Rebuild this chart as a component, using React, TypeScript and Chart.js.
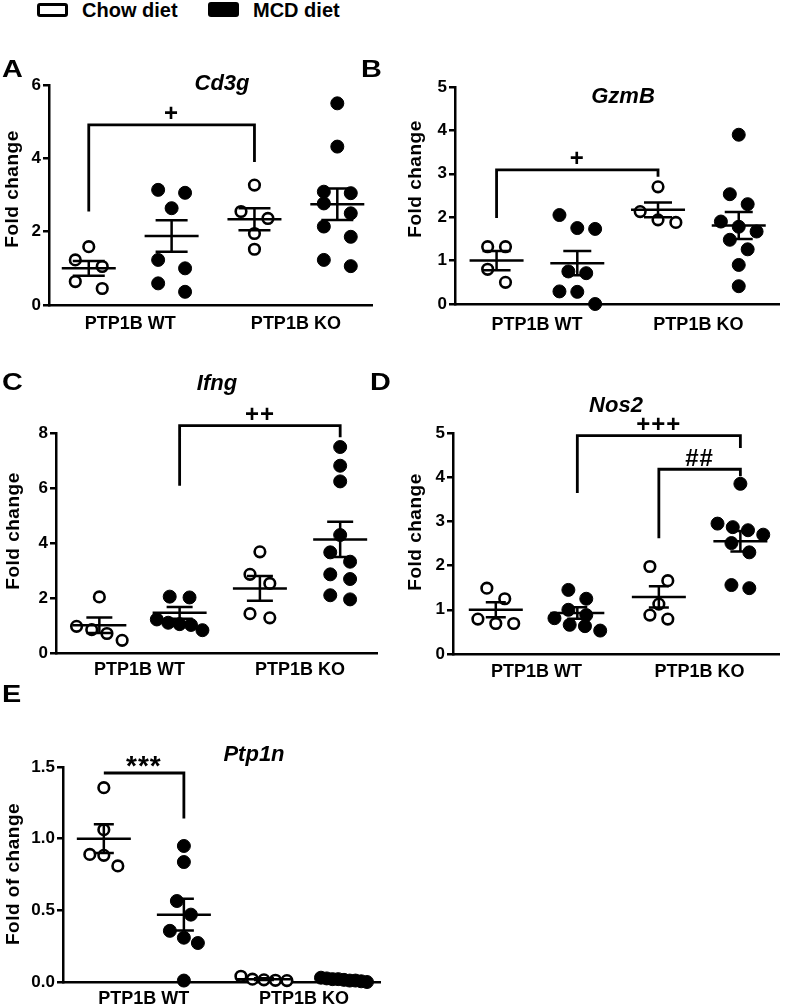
import React, { useEffect, useRef } from "react";
import { Chart, registerables } from "chart.js";

Chart.register(...registerables);

const FONT = "'Liberation Sans', Arial, Helvetica, sans-serif";

// ---------- shared categories ----------
const groupPositions = [1, 2, 3, 4];
const groupDiets = ["Chow", "MCD", "Chow", "MCD"];
const genotypePositions = [1.5, 3.5];
const genotypeLabels = ["PTP1B WT", "PTP1B KO"];
const legendLabels = ["Chow diet", "MCD diet"];

// ---------- A: Cd3g ----------
const cd3gChowWT = [1.59, 1.23, 1.05, 0.64, 0.45];
const cd3gMcdWT = [3.14, 3.06, 2.64, 1.23, 1.0, 0.59, 0.36];
const cd3gChowKO = [3.27, 2.55, 2.36, 1.95, 1.52];
const cd3gMcdKO = [5.5, 4.32, 3.09, 3.05, 2.77, 2.5, 2.14, 1.86, 1.23, 1.06];
const cd3gMean = [1.0, 1.88, 2.34, 2.75];
const cd3gSem = [0.2, 0.43, 0.3, 0.43];
const cd3gTicks = [0, 2, 4, 6];
const cd3gSig = [{ from: 1, to: 3, top: 4.91, leftEnd: 2.55, rightEnd: 3.9, label: "+" }];

// ---------- B: GzmB ----------
const gzmbChowWT = [1.32, 1.32, 0.8, 0.5];
const gzmbMcdWT = [2.05, 1.75, 1.73, 0.75, 0.71, 0.29, 0.28, 0.0];
const gzmbChowKO = [2.7, 2.13, 1.94, 1.88];
const gzmbMcdKO = [3.9, 2.53, 2.3, 1.9, 1.78, 1.67, 1.48, 1.26, 0.9, 0.41];
const gzmbMean = [1.0, 0.94, 2.17, 1.81];
const gzmbSem = [0.22, 0.28, 0.17, 0.31];
const gzmbTicks = [0, 1, 2, 3, 4, 5];
const gzmbSig = [{ from: 1, to: 3, top: 3.09, leftEnd: 1.98, rightEnd: 2.93, label: "+" }];

// ---------- C: Ifng ----------
const ifngChowWT = [2.04, 0.97, 0.85, 0.71, 0.46];
const ifngMcdWT = [2.05, 2.02, 1.22, 1.1, 1.05, 1.02, 0.83];
const ifngChowKO = [3.68, 2.86, 2.53, 1.43, 1.28];
const ifngMcdKO = [7.49, 6.81, 6.24, 4.29, 3.66, 3.32, 2.86, 2.69, 2.1, 1.95];
const ifngMean = [1.01, 1.46, 2.35, 4.13];
const ifngSem = [0.28, 0.21, 0.45, 0.64];
const ifngTicks = [0, 2, 4, 6, 8];
const ifngSig = [{ from: 2, to: 4, top: 8.27, leftEnd: 6.08, rightEnd: 7.85, label: "++" }];

// ---------- D: Nos2 ----------
const nos2ChowWT = [1.49, 1.25, 0.79, 0.69, 0.69];
const nos2McdWT = [1.45, 1.25, 1.0, 0.88, 0.81, 0.66, 0.63, 0.53];
const nos2ChowKO = [1.98, 1.66, 1.13, 0.88, 0.79];
const nos2McdKO = [3.85, 2.95, 2.87, 2.8, 2.7, 2.51, 2.3, 1.56, 1.49];
const nos2Mean = [1.0, 0.93, 1.29, 2.55];
const nos2Sem = [0.17, 0.13, 0.24, 0.23];
const nos2Ticks = [0, 1, 2, 3, 4, 5];
const nos2Sig = [
  { from: 2, to: 4, top: 4.94, leftEnd: 3.64, rightEnd: 4.66, label: "+++" },
  { from: 3, to: 4, top: 4.18, leftEnd: 2.62, rightEnd: 4.02, label: "##" },
];

// ---------- E: Ptp1n ----------
const ptp1nChowWT = [1.356, 1.063, 0.89, 0.884, 0.81];
const ptp1nMcdWT = [0.949, 0.837, 0.565, 0.47, 0.357, 0.309, 0.272, 0.01];
const ptp1nChowKO = [0.04, 0.02, 0.015, 0.012, 0.01];
const ptp1nMcdKO = [0.02, 0.015, 0.03, 0.01, 0.02, 0.0, 0.01, 0.025, 0.005];
const ptp1nMean = [1.0, 0.47, 0.02, 0.015];
const ptp1nSem = [0.1, 0.11, 0.006, 0.003];
const ptp1nTicks = [0, 0.5, 1.0, 1.5];
const ptp1nSig = [{ from: 1, to: 2, top: 1.458, leftEnd: 1.458, rightEnd: 1.14, label: "***" }];

type Sig = { from: number; to: number; top: number; leftEnd: number; rightEnd: number; label: string };
type Panel = {
  letter: string;
  title: string;
  yTitle: string;
  groups: number[][];
  mean: number[];
  sem: number[];
  ticks: number[];
  decimals: number;
  sig: Sig[];
  box: { left: number; top: number; width: number; height: number };
  area: { left: number; right: number; top: number; bottom: number };
  xRange: [number, number];
  titlePos: [number, number];
  yTitlePos: [number, number];
  letterPos: [number, number];
  spread: number;
  tickPad: number;
  capHalf: number;
};

const panels: Panel[] = [
  {
    letter: "A", title: "Cd3g", yTitle: "Fold change",
    groups: [cd3gChowWT, cd3gMcdWT, cd3gChowKO, cd3gMcdKO], mean: cd3gMean, sem: cd3gSem,
    ticks: cd3gTicks, decimals: 0, sig: cd3gSig,
    box: { left: 0, top: 40, width: 380, height: 300 },
    area: { left: 49, right: 373, top: 85, bottom: 305 },
    xRange: [0.52, 4.42], titlePos: [222, 90], yTitlePos: [13, 189], letterPos: [2, 57],
    spread: 27, tickPad: 8, capHalf: 16,
  },
  {
    letter: "B", title: "GzmB", yTitle: "Fold change",
    groups: [gzmbChowWT, gzmbMcdWT, gzmbChowKO, gzmbMcdKO], mean: gzmbMean, sem: gzmbSem,
    ticks: gzmbTicks, decimals: 0, sig: gzmbSig,
    box: { left: 380, top: 40, width: 407, height: 300 },
    area: { left: 455, right: 782, top: 87, bottom: 304 },
    xRange: [0.485, 4.5], titlePos: [623, 103], yTitlePos: [416, 179], letterPos: [361, 57],
    spread: 18, tickPad: 10, capHalf: 14,
  },
  {
    letter: "C", title: "Ifng", yTitle: "Fold change",
    groups: [ifngChowWT, ifngMcdWT, ifngChowKO, ifngMcdKO], mean: ifngMean, sem: ifngSem,
    ticks: ifngTicks, decimals: 0, sig: ifngSig,
    box: { left: 0, top: 360, width: 385, height: 320 },
    area: { left: 56, right: 380, top: 433, bottom: 653 },
    xRange: [0.46, 4.46], titlePos: [217, 390], yTitlePos: [14, 531], letterPos: [2, 370],
    spread: 20, tickPad: 6, capHalf: 13,
  },
  {
    letter: "D", title: "Nos2", yTitle: "Fold change",
    groups: [nos2ChowWT, nos2McdWT, nos2ChowKO, nos2McdKO], mean: nos2Mean, sem: nos2Sem,
    ticks: nos2Ticks, decimals: 0, sig: nos2Sig,
    box: { left: 380, top: 360, width: 407, height: 320 },
    area: { left: 453, right: 781, top: 433, bottom: 654 },
    xRange: [0.475, 4.475], titlePos: [616, 412], yTitlePos: [416, 532], letterPos: [370, 370],
    spread: 18, tickPad: 7, capHalf: 10,
  },
  {
    letter: "E", title: "Ptp1n", yTitle: "Fold of change",
    groups: [ptp1nChowWT, ptp1nMcdWT, ptp1nChowKO, ptp1nMcdKO], mean: ptp1nMean, sem: ptp1nSem,
    ticks: ptp1nTicks, decimals: 1, sig: ptp1nSig,
    box: { left: 0, top: 680, width: 390, height: 326 },
    area: { left: 63, right: 380, top: 767, bottom: 982 },
    xRange: [0.49, 4.45], titlePos: [254, 761], yTitlePos: [14, 874], letterPos: [2, 682],
    spread: 14, tickPad: 6, capHalf: 10,
  },
];

// Row-based swarm layout (like a column scatter plot): points closer than one symbol
// vertically share a row and are spread side by side around the group centre.
function swarm(values: number[], center: number, pxPerX: number, pxPerY: number, spread: number) {
  const ROW_GAP = 14.5;
  const MAX_WIDTH = 46;
  const sorted = values.map((v) => v).sort((a, b) => a - b);
  const rows: number[][] = [];
  let cur: number[] = [];
  let start: number | null = null;
  for (const v of sorted) {
    if (start === null || (v - start) * pxPerY > ROW_GAP) {
      if (cur.length) rows.push(cur);
      cur = [v];
      start = v;
    } else cur.push(v);
  }
  if (cur.length) rows.push(cur);
  const pts: { x: number; y: number }[] = [];
  for (const row of rows) {
    const n = row.length;
    let s = spread;
    if (n > 1 && (n - 1) * s > MAX_WIDTH) s = MAX_WIDTH / (n - 1);
    const desc = row.slice().sort((a, b) => b - a);
    desc.forEach((v, k) => {
      const off = (k - (n - 1) / 2) * s;
      pts.push({ x: center + off / pxPerX, y: v });
    });
  }
  return pts;
}

function PanelChart({ p }: { p: Panel }) {
  const ref = useRef<HTMLCanvasElement>(null);
  useEffect(() => {
    const canvas = ref.current;
    if (!canvas) return;
    const { box, area } = p;
    const yMax = p.ticks[p.ticks.length - 1];
    const pxPerX = (area.right - area.left) / (p.xRange[1] - p.xRange[0]);
    const pxPerY = (area.bottom - area.top) / yMax;

    const datasets = p.groups.map((vals, gi) => {
      const chow = groupDiets[gi] === "Chow";
      return {
        label: chow ? legendLabels[0] : legendLabels[1],
        data: swarm(vals, groupPositions[gi], pxPerX, pxPerY, p.spread),
        pointRadius: chow ? 5.3 : 6.5,
        pointBorderWidth: chow ? 2.6 : 1,
        pointBackgroundColor: chow ? "#ffffff" : "#000000",
        pointBorderColor: "#000000",
        pointStyle: "circle" as const,
        showLine: false,
        clip: false as const,
      };
    });

    const overlay = {
      id: "overlay",
      afterDraw(chart: any) {
        const ctx: CanvasRenderingContext2D = chart.ctx;
        const xs = chart.scales.x;
        const ys = chart.scales.y;
        ctx.save();
        ctx.strokeStyle = "#000";
        ctx.fillStyle = "#000";
        ctx.lineCap = "butt";
        // mean ± SEM
        ctx.lineWidth = 2.5;
        p.mean.forEach((m, i) => {
          const x = xs.getPixelForValue(groupPositions[i]);
          const ym = ys.getPixelForValue(m);
          const yu = ys.getPixelForValue(m + p.sem[i]);
          const yl = ys.getPixelForValue(m - p.sem[i]);
          ctx.beginPath();
          ctx.moveTo(x - 27, ym);
          ctx.lineTo(x + 27, ym);
          ctx.moveTo(x, yu);
          ctx.lineTo(x, yl);
          ctx.moveTo(x - p.capHalf, yu);
          ctx.lineTo(x + p.capHalf, yu);
          ctx.moveTo(x - p.capHalf, yl);
          ctx.lineTo(x + p.capHalf, yl);
          ctx.stroke();
        });
        // significance brackets
        ctx.lineWidth = 2.8;
        ctx.lineJoin = "miter";
        p.sig.forEach((s) => {
          const x1 = xs.getPixelForValue(s.from);
          const x2 = xs.getPixelForValue(s.to);
          const yt = ys.getPixelForValue(s.top);
          ctx.beginPath();
          ctx.moveTo(x1, ys.getPixelForValue(s.leftEnd));
          ctx.lineTo(x1, yt);
          ctx.lineTo(x2, yt);
          ctx.lineTo(x2, ys.getPixelForValue(s.rightEnd));
          ctx.stroke();
          const size = s.label.startsWith("*") ? 28 : 24;
          ctx.font = `bold ${size}px ${FONT}`;
          (ctx as any).letterSpacing = "1px";
          ctx.textAlign = "center";
          ctx.textBaseline = "alphabetic";
          const mt = ctx.measureText(s.label);
          const cy = yt - 12;
          ctx.fillText(s.label, (x1 + x2) / 2, cy + (mt.actualBoundingBoxAscent - mt.actualBoundingBoxDescent) / 2);
        });
        // title
        (ctx as any).letterSpacing = "0px";
        ctx.font = `italic bold 22px ${FONT}`;
        ctx.textAlign = "center";
        ctx.textBaseline = "alphabetic";
        ctx.fillText(p.title, p.titlePos[0] - box.left, p.titlePos[1] - box.top);
        // y axis title
        ctx.font = `bold 19px ${FONT}`;
        (ctx as any).letterSpacing = "0.5px";
        ctx.translate(p.yTitlePos[0] - box.left, p.yTitlePos[1] - box.top);
        ctx.rotate(-Math.PI / 2);
        ctx.textBaseline = "middle";
        ctx.fillText(p.yTitle, 0, 0);
        (ctx as any).letterSpacing = "0px";
        ctx.restore();
      },
    };

    const chart = new Chart(canvas, {
      type: "scatter",
      data: { datasets: datasets as any },
      options: {
        animation: false,
        responsive: false,
        devicePixelRatio: 1,
        events: [],
        layout: {
          padding: {
            left: 0,
            top: area.top - box.top,
            right: box.left + box.width - area.right,
            bottom: 0,
          },
        },
        plugins: { legend: { display: false }, tooltip: { enabled: false }, title: { display: false } },
        scales: {
          x: {
            type: "linear",
            min: p.xRange[0],
            max: p.xRange[1],
            afterBuildTicks: (s: any) => {
              s.ticks = genotypePositions.map((v) => ({ value: v }));
            },
            afterFit: (s: any) => {
              s.height = box.top + box.height - area.bottom;
            },
            grid: { display: false, drawTicks: false, tickLength: 0 },
            border: { display: true, color: "#000", width: 2.5 },
            ticks: {
              padding: p.tickPad,
              color: "#000",
              font: { family: FONT, size: 18, weight: "bold" as const },
              maxRotation: 0,
              autoSkip: false,
              callback: (_v: any, i: number) => genotypeLabels[i],
            },
          },
          y: {
            type: "linear",
            min: 0,
            max: yMax,
            afterBuildTicks: (s: any) => {
              s.ticks = p.ticks.map((v) => ({ value: v }));
            },
            afterFit: (s: any) => {
              s.width = area.left - box.left;
            },
            grid: { display: true, drawOnChartArea: false, drawTicks: true, tickLength: 6, color: "#000", lineWidth: 2.5 },
            border: { display: true, color: "#000", width: 2.5 },
            ticks: {
              padding: 2,
              color: "#000",
              font: { family: FONT, size: 17, weight: "bold" as const },
              autoSkip: false,
              callback: (v: any) => Number(v).toFixed(p.decimals),
            },
          },
        },
      },
      plugins: [overlay],
    });
    return () => chart.destroy();
  }, [p]);
  return (
    <canvas
      ref={ref}
      width={p.box.width}
      height={p.box.height}
      style={{ position: "absolute", left: p.box.left, top: p.box.top, width: p.box.width, height: p.box.height }}
    />
  );
}

export default function App() {
  const textStyle: React.CSSProperties = {
    position: "absolute",
    fontFamily: FONT,
    fontWeight: "bold",
    color: "#000",
    whiteSpace: "nowrap",
  };
  return (
    <div style={{ position: "absolute", left: 0, top: 0, width: 787, height: 1006, background: "#fff", overflow: "hidden" }}>
      {/* legend */}
      <div style={{ position: "absolute", left: 37, top: 3, width: 31, height: 14, border: "3px solid #000", borderRadius: 3, boxSizing: "border-box" }} />
      <div style={{ ...textStyle, left: 82, top: 0, fontSize: 20, lineHeight: "20px" }}>{legendLabels[0]}</div>
      <div style={{ position: "absolute", left: 208, top: 2, width: 31, height: 15, background: "#000", borderRadius: 3 }} />
      <div style={{ ...textStyle, left: 253, top: 0, fontSize: 20, lineHeight: "20px" }}>{legendLabels[1]}</div>
      {panels.map((p) => (
        <React.Fragment key={p.letter}>
          <PanelChart p={p} />
          <div
            style={{
              ...textStyle,
              left: p.letterPos[0],
              top: p.letterPos[1],
              fontSize: 24,
              lineHeight: "24px",
              transform: "scaleX(1.2)",
              transformOrigin: "left top",
            }}
          >
            {p.letter}
          </div>
        </React.Fragment>
      ))}
    </div>
  );
}
